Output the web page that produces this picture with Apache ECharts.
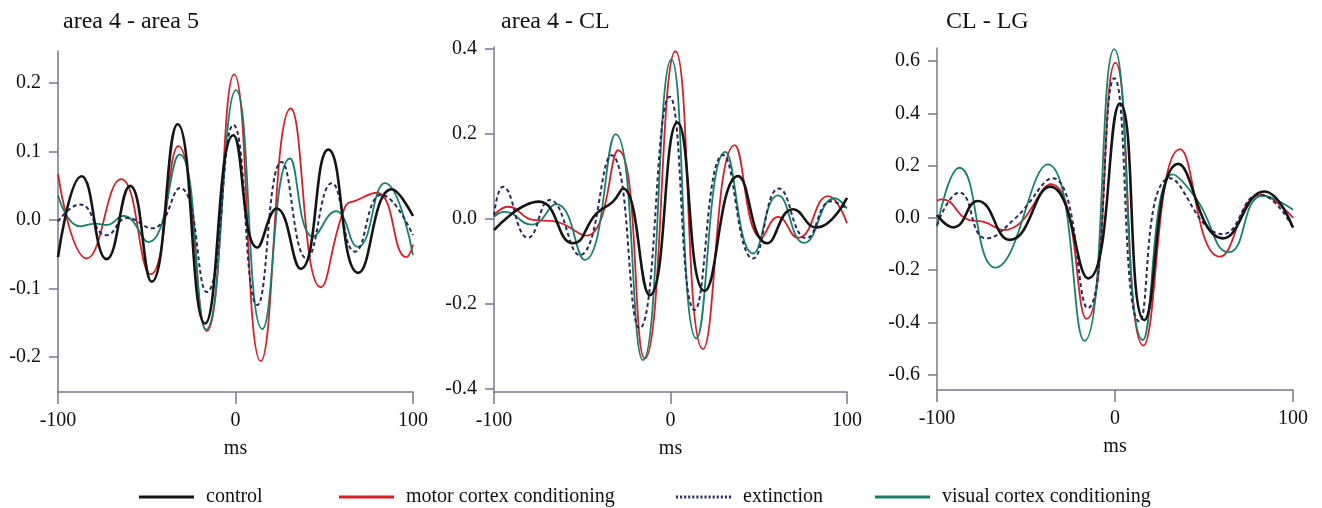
<!DOCTYPE html>
<html lang="en">

<head>
  <meta charset='utf-8'>
  <title>Cross-correlation, three area pairs</title>
  <meta name='viewport' content='width=device-width, initial-scale=1'>
</head>

<body style="margin:0;background:#fff;">
  <div id="myCharts" style="width: 1322px;height:508px;"></div>
  <script src="https://cdn.jsdelivr.net/npm/echarts@6/dist/echarts.min.js"></script>
  <script type="text/javascript">
    // panel titles and ticks
    var panelTitles = ['area 4 - area 5', 'area 4 - CL', 'CL - LG'];
    var xTicks = [-100, 0, 100];
    var yTicks = [
      [-0.2, -0.1, 0, 0.1, 0.2],
      [-0.4, -0.2, 0, 0.2, 0.4],
      [-0.6, -0.4, -0.2, 0, 0.2, 0.4, 0.6]
    ];
    var seriesNames = ['control', 'motor cortex conditioning', 'extinction', 'visual cortex conditioning'];

    // panel 1: area 4 - area 5  [ms, value]
    var control1 = [[-100, -0.054], [-86.7, 0.064], [-72.6, -0.057], [-59.4, 0.050], [-47.2, -0.090], [-32.6, 0.140],
      [-17.2, -0.151], [-1.2, 0.124], [12.3, -0.040], [23.2, 0.017], [36.7, -0.071], [52.3, 0.103], [69.2, -0.077],
      [88.0, 0.045], [100, 0.006]];
    var motor1 = [[-100, 0.067], [-83.8, -0.056], [-64.5, 0.060], [-47.8, -0.079], [-32.2, 0.108], [-16.2, -0.162],
      [-0.8, 0.213], [14.2, -0.206], [31.1, 0.163], [48.0, -0.098], [61.7, 0.019], [68.3, 0.029], [79.5, 0.040],
      [96.4, -0.054], [100, -0.036]];
    var extinction1 = [[-100, -0.002], [-87.6, 0.023], [-72.6, -0.022], [-61, 0.003], [-47, -0.012], [-31.3, 0.047],
      [-16.2, -0.105], [-1.2, 0.139], [12.3, -0.124], [26, 0.085], [40.1, -0.056], [54.2, 0.054], [67.3, -0.046],
      [82.3, 0.037], [100, -0.022]];
    var visual1 = [[-100, 0.036], [-87.6, -0.009], [-79, -0.005], [-72.6, -0.007], [-63.2, 0.006], [-49.1, -0.032],
      [-31.6, 0.096], [-16.6, -0.160], [0.3, 0.190], [15.1, -0.159], [30.7, 0.090], [43.8, -0.024], [56.6, 0.013],
      [68.8, -0.039], [84.2, 0.054], [100, -0.051]];

    // panel 2: area 4 - CL
    var control2 = [[-100, -0.026], [-74.5, 0.041], [-55.2, -0.057], [-42, 0.013], [-32.6, 0.041], [-26.9, 0.072],
      [-11.8, -0.179], [3.9, 0.227], [19.4, -0.169], [38.3, 0.101], [54.7, -0.057], [69.4, 0.023], [82.6, -0.020],
      [100, 0.050]];
    var motor2 = [[-100, 0.009], [-92, 0.029], [-77.9, -0.002], [-66.5, -0.005], [-47.7, -0.039], [-29.7, 0.162],
      [-14.6, -0.328], [2.8, 0.395], [18.4, -0.306], [36.4, 0.174], [51.5, -0.044], [60.9, 0.005], [72.3, -0.044],
      [89.3, 0.054], [100, -0.010]];
    var extinction2 = [[-100, 0.009], [-94.9, 0.076], [-80.7, -0.044], [-68.4, 0.045], [-51.5, -0.085], [-33.5, 0.150],
      [-17.5, -0.257], [-0.5, 0.288], [13.7, -0.214], [29.8, 0.151], [46.8, -0.093], [61.5, 0.072], [77, -0.045],
      [91.1, 0.042], [100, 0.024]];
    var visual2 = [[-100, 0.005], [-94, 0.017], [-78.8, -0.013], [-64.7, 0.035], [-48.6, -0.096], [-31.1, 0.200],
      [-15.6, -0.332], [0.5, 0.376], [14.7, -0.281], [31.1, 0.158], [46.8, -0.081], [60.9, 0.056], [75.7, -0.056],
      [93, 0.049], [100, 0.025]];

    // panel 3: CL - LG
    var control3 = [[-100, 0.011], [-90.8, -0.036], [-77.1, 0.065], [-59, -0.084], [-36.5, 0.120], [-15, -0.231],
      [2.8, 0.438], [16.5, -0.390], [35.6, 0.207], [60.5, -0.078], [83.9, 0.101], [100, -0.037]];
    var motor3 = [[-100, 0.066], [-97.2, 0.071], [-81.8, -0.008], [-74.3, -0.014], [-62.2, -0.046], [-36, 0.129],
      [-16, -0.386], [0.2, 0.594], [15.9, -0.488], [36.5, 0.263], [58.9, -0.148], [81.9, 0.088], [100, 0.001]];
    var extinction3 = [[-100, -0.027], [-87.4, 0.097], [-72.4, -0.078], [-56.5, -0.004], [-35, 0.152], [-15.3, -0.345],
      [-0.4, 0.534], [13.7, -0.396], [30.9, 0.152], [60.5, -0.062], [81.1, 0.090], [100, -0.037]];
    var visual3 = [[-100, -0.033], [-87.4, 0.192], [-67.2, -0.190], [-37.8, 0.205], [-17.2, -0.470], [-0.4, 0.646],
      [15.6, -0.467], [32.4, 0.167], [45.5, 0.075], [64.2, -0.131], [83, 0.085], [100, 0.031]];

    var panelData = [
      [control1, motor1, extinction1, visual1],
      [control2, motor2, extinction2, visual2],
      [control3, motor3, extinction3, visual3]
    ];

    var serif = '"Liberation Serif", "DejaVu Serif", serif';
    var axisColor = '#77778a';
    var grids = [
      { left: 58, top: 51, width: 355, height: 341 },
      { left: 494, top: 47, width: 353, height: 345 },
      { left: 937, top: 48, width: 356, height: 342 }
    ];
    var titleLeft = [63, 501, 946];
    var yRanges = [[-0.251, 0.247], [-0.407, 0.405], [-0.658, 0.650]];
    var styles = [
      { color: '#141414', width: 2.6, type: 'solid' },
      { color: '#d81e28', width: 1.8, type: 'solid' },
      { color: '#262b5e', width: 2, type: [4, 3] },
      { color: '#17806a', width: 1.8, type: 'solid' }
    ];
    var drawOrder = [1, 3, 2, 0];

    // legend keys: a plain bar, and a row of dots for extinction
    var dotPath = 'path://';
    for (var d = 0; d < 14; d++) {
      dotPath += 'M' + (d * 4) + ',0h2v3h-2z';
    }
    var legendIcons = ['rect', 'rect', dotPath, 'rect'];
    var legendLeft = [139, 339, 676, 875];

    var myChart = echarts.init(document.getElementById('myCharts'));

    var xAxes = [], yAxes = [], series = [], titles = [];
    grids.forEach(function (g, i) {
      titles.push({
        text: panelTitles[i],
        left: titleLeft[i],
        top: 10,
        padding: 0,
        textStyle: { fontFamily: serif, fontSize: 24, fontWeight: 'normal', color: '#111' }
      });
      xAxes.push({
        gridIndex: i, type: 'value', min: -100, max: 100,
        name: 'ms', nameLocation: 'middle', nameGap: 47,
        nameTextStyle: { fontFamily: serif, fontSize: 20, color: '#111' },
        axisLine: { show: true, onZero: false, lineStyle: { color: axisColor, width: 1.5 } },
        axisTick: { show: true, length: 12, customValues: xTicks, lineStyle: { color: axisColor, width: 1.5 } },
        axisLabel: { customValues: xTicks, margin: 19, fontFamily: serif, fontSize: 20, color: '#111' },
        splitLine: { show: false }
      });
      yAxes.push({
        gridIndex: i, type: 'value', min: yRanges[i][0], max: yRanges[i][1],
        axisLine: { show: true, onZero: false, lineStyle: { color: axisColor, width: 1.5 } },
        axisTick: { show: true, length: 9, customValues: yTicks[i], lineStyle: { color: axisColor, width: 1.5 } },
        axisLabel: {
          customValues: yTicks[i], margin: 17, fontFamily: serif, fontSize: 20, color: '#111',
          formatter: function (v) { return (Math.abs(v) < 1e-9 ? 0 : v).toFixed(1); }
        },
        splitLine: { show: false }
      });
      drawOrder.forEach(function (k) {
        series.push({
          name: seriesNames[k],
          type: 'line',
          xAxisIndex: i,
          yAxisIndex: i,
          smooth: 0.5,
          symbol: 'none',
          lineStyle: styles[k],
          itemStyle: { color: styles[k].color },
          data: panelData[i][k]
        });
      });
    });

    var legends = seriesNames.map(function (n, k) {
      return {
        data: [{ name: n, icon: legendIcons[k] }],
        left: legendLeft[k],
        top: 487,
        padding: 0,
        itemWidth: 55,
        itemHeight: 3,
        symbolKeepAspect: false,
        selectedMode: false,
        textStyle: { fontFamily: serif, fontSize: 20, color: '#111', padding: [0, 0, 0, 7] }
      };
    });

    var chartOption = {
      animation: false,
      backgroundColor: '#fff',
      title: titles,
      legend: legends,
      grid: grids,
      xAxis: xAxes,
      yAxis: yAxes,
      series: series
    };
    myChart.setOption(chartOption);
  </script>
</body>

</html>
